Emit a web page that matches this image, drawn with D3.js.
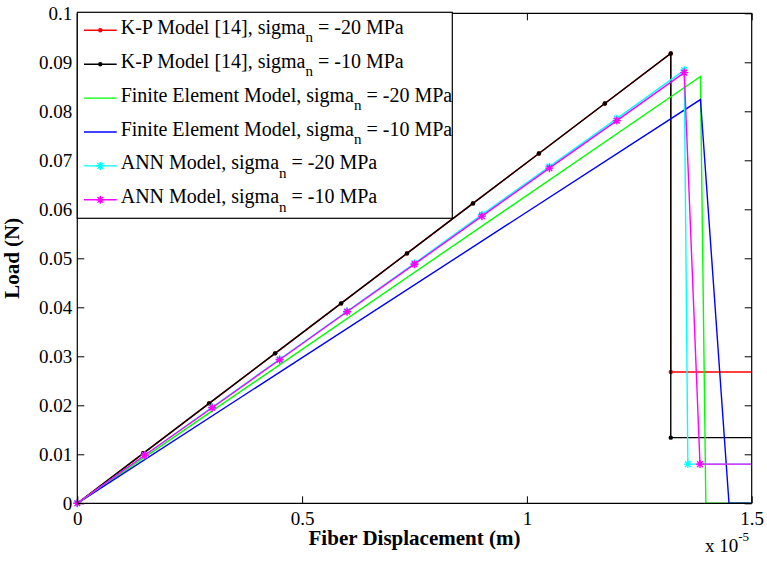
<!DOCTYPE html>
<html>
<head>
<meta charset="UTF-8">
<script src="https://d3js.org/d3.v7.min.js"></script>
<style>
  html, body { margin: 0; padding: 0; background: #fff; }
  svg text { font-family: "Liberation Serif", "Times New Roman", serif; fill: #000; }
</style>
</head>
<body>
<svg id="chart" width="767" height="563"></svg>
<script>
// --- data (x in units of 1e-5 m, load in N); tails run past the x limit and are clipped ---
const kpX    = [0, 0.1467, 0.2933, 0.44, 0.5867, 0.7333, 0.88, 1.0267, 1.1733, 1.32, 1.32, 1.6];
const kp20Y  = [0, 0.0102, 0.0204, 0.0306, 0.0408, 0.0510, 0.0612, 0.0714, 0.0816, 0.0918, 0.0268, 0.0268];
const kp10Y  = [0, 0.0102, 0.0204, 0.0306, 0.0408, 0.0510, 0.0612, 0.0714, 0.0816, 0.0918, 0.0134, 0.0134];
const fe20X  = [0, 1.386, 1.398, 1.6];
const fe20Y  = [0, 0.0871, 0, 0];
const fe10X  = [0, 1.386, 1.4495, 1.6];
const fe10Y  = [0, 0.0824, 0, 0];
const ann20X = [0, 0.15, 0.3, 0.45, 0.6, 0.75, 0.9, 1.05, 1.2, 1.35, 1.358, 1.6];
const ann20Y = [0, 0.0098, 0.0196, 0.0294, 0.0392, 0.0490, 0.0589, 0.0687, 0.0785, 0.0884, 0.0080, 0.0080];
const ann10X = [0, 0.15, 0.3, 0.45, 0.6, 0.75, 0.9, 1.05, 1.2, 1.35, 1.385, 1.6];
const ann10Y = [0, 0.0098, 0.0195, 0.0293, 0.0391, 0.0488, 0.0586, 0.0684, 0.0781, 0.0879, 0.0080, 0.0080];

const xTicks = [0, 0.5, 1, 1.5];
const yTicks = [0, 0.01, 0.02, 0.03, 0.04, 0.05, 0.06, 0.07, 0.08, 0.09, 0.1];

const series = [
  { name: "K-P Model [14], sigma", tail: " = -20 MPa", xs: kpX,    ys: kp20Y,  color: "#ff0000", marker: "dot"  },
  { name: "K-P Model [14], sigma", tail: " = -10 MPa", xs: kpX,    ys: kp10Y,  color: "#000000", marker: "dot"  },
  { name: "Finite Element Model, sigma", tail: " = -20 MPa", xs: fe20X, ys: fe20Y, color: "#00ff00", marker: null },
  { name: "Finite Element Model, sigma", tail: " = -10 MPa", xs: fe10X, ys: fe10Y, color: "#0000ff", marker: null },
  { name: "ANN Model, sigma", tail: " = -20 MPa", xs: ann20X, ys: ann20Y, color: "#00ffff", marker: "star" },
  { name: "ANN Model, sigma", tail: " = -10 MPa", xs: ann10X, ys: ann10Y, color: "#ff00ff", marker: "star" }
];

// --- layout ---
const L = 77.3, R = 751.7, T = 13.3, B = 503.3;
const svg = d3.select("#chart");
const x = d3.scaleLinear().domain([0, 1.5]).range([L, R]);
const y = d3.scaleLinear().domain([0, 0.1]).range([B, T]);

const line = d3.line().x(d => x(d[0])).y(d => y(d[1]));

svg.append("clipPath").attr("id", "clip").append("rect")
  .attr("x", L - 5).attr("y", T - 5).attr("width", R - L + 5).attr("height", B - T + 10);

function starPath(r) {
  const d = r * 0.7071;
  return `M${-r},0L${r},0M0,${-r}L0,${r}M${-d},${-d}L${d},${d}M${-d},${d}L${d},${-d}`;
}

function drawMarker(g, kind, color, cx, cy) {
  if (kind === "dot") {
    g.append("circle").attr("cx", cx).attr("cy", cy).attr("r", 2.2).attr("fill", color);
  } else if (kind === "star") {
    g.append("path").attr("d", starPath(4)).attr("transform", `translate(${cx},${cy})`)
      .attr("stroke", color).attr("stroke-width", 1.4).attr("fill", "none");
  }
}

// --- series ---
const plot = svg.append("g").attr("clip-path", "url(#clip)");
series.forEach(s => {
  const pts = s.xs.map((v, i) => [v, s.ys[i]]);
  plot.append("path").datum(pts).attr("d", line)
    .attr("fill", "none").attr("stroke", s.color).attr("stroke-width", 1.4);
  if (s.marker) {
    pts.forEach(p => drawMarker(plot, s.marker, s.color, x(p[0]), y(p[1])));
  }
});

// --- axes (MATLAB style box, ticks inside) ---
const tick = 7;
const ax = svg.append("g");

const xAxis = ax.append("g").attr("transform", `translate(0,${B})`)
  .call(d3.axisBottom(x).tickValues(xTicks).tickSize(-tick).tickPadding(8).tickFormat(d3.format("~g")));
const xTop = ax.append("g").attr("transform", `translate(0,${T})`)
  .call(d3.axisTop(x).tickValues(xTicks).tickSize(-tick).tickFormat(""));
const yAxis = ax.append("g").attr("transform", `translate(${L},0)`)
  .call(d3.axisLeft(y).tickValues(yTicks).tickSize(-tick).tickPadding(5).tickFormat(d3.format("~g")));
const yRight = ax.append("g").attr("transform", `translate(${R},0)`)
  .call(d3.axisRight(y).tickValues(yTicks).tickSize(-tick).tickFormat(""));

ax.selectAll(".domain").attr("stroke", "#000").attr("stroke-width", 1.2);
ax.selectAll(".tick line").attr("stroke", "#000").attr("stroke-width", 1);
ax.selectAll("text").attr("font-family", "Liberation Serif").attr("font-size", 19).attr("fill", "#000");
xTop.select(".domain").attr("d", `M${L},0H${R}`);
xAxis.select(".domain").attr("d", `M${L},0H${R}`);
yAxis.select(".domain").attr("d", `M0,${B}V${T}`);
yRight.select(".domain").attr("d", `M0,${B}V${T}`);

// exponent label
const expo = svg.append("text").attr("x", 705).attr("y", 552).attr("font-size", 19);
expo.append("tspan").text("x 10");
expo.append("tspan").attr("dy", -11).attr("font-size", 13).text("-5");

// axis titles
svg.append("text").attr("x", (L + R) / 2).attr("y", 545).attr("text-anchor", "middle")
  .attr("font-size", 21).attr("font-weight", "bold").text("Fiber Displacement (m)");
svg.append("text").attr("transform", `translate(19,${(T + B) / 2}) rotate(-90)`)
  .attr("text-anchor", "middle").attr("font-size", 21).attr("font-weight", "bold").text("Load (N)");

// --- legend ---
const leg = svg.append("g");
leg.append("rect").attr("x", L).attr("y", 12.3).attr("width", 452.3 - L).attr("height", 218.3 - 12.3)
  .attr("fill", "#fff").attr("stroke", "#000").attr("stroke-width", 1.2);
series.forEach((s, i) => {
  const cy = 30.3 + i * 33.9;
  leg.append("line").attr("x1", 84).attr("x2", 116.7).attr("y1", cy).attr("y2", cy)
    .attr("stroke", s.color).attr("stroke-width", 1.4);
  if (s.marker) drawMarker(leg, s.marker, s.color, 100.3, cy);
  const t = leg.append("text").attr("x", 120.7).attr("y", cy + 3.5).attr("font-size", 20);
  t.append("tspan").text(s.name);
  t.append("tspan").attr("dy", 8.5).attr("font-size", 15).text("n");
  t.append("tspan").attr("dy", -8.5).text(s.tail);
});
</script>
</body>
</html>
